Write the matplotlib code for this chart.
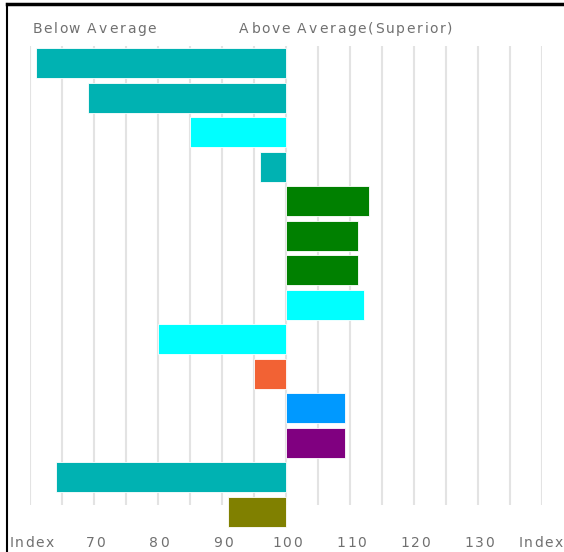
import matplotlib.pyplot as plt
from matplotlib.font_manager import FontProperties, findfont, get_font

# Data
index_values = [61, 69, 85, 96, 113, 111.2, 111.2, 112.2, 80, 95, 109.2, 109.2, 64, 91]
bar_colors = ["#00b2b2", "#00b2b2", "#00ffff", "#00b2b2", "#008000", "#008000", "#008000",
              "#00ffff", "#00ffff", "#f26234", "#0099ff", "#800080", "#00b2b2", "#808000"]
tick_values = [70, 80, 90, 100, 110, 120, 130]
base = 100

W, H = 564, 552
fig = plt.figure(figsize=(W / 100, H / 100), dpi=100)
ax = fig.add_axes([30 / W, 1 - 529 / H, 512 / W, 483 / H])

# vertical grid lines
for g in range(60, 141, 5):
    ax.vlines(g, -0.5, 12.8, color="#e3e3e3", lw=1.5, zorder=0)

ys = list(range(len(index_values)))
lefts = [min(v, base) for v in index_values]
widths = [abs(v - base) for v in index_values]
ax.barh(ys, widths, left=lefts, height=0.87, color=bar_colors,
        edgecolor="#ffffff", linewidth=0.6, zorder=2)

ax.set_xlim(60, 140)
ax.set_ylim(13.5, -0.5)
ax.axis("off")

# letter-spaced labels (the original font has wide tracking)
gray = "#707070"
fp = FontProperties(family="DejaVu Sans", size=10)
ft = get_font(findfont(fp))
ft.set_size(10, 100)


def glyph(c):
    g = ft.load_char(ord(c))
    return g.linearHoriAdvance / 65536, g.horiBearingX / 64


def spaced_text(x, y, s, spacing=1.7, ha="left"):
    total = sum(glyph(c)[0] for c in s) + spacing * (len(s) - 1)
    pen = x - total / 2 if ha == "center" else x
    for c in s:
        adv, lsb = glyph(c)
        if c != " ":
            fig.text((pen + lsb) / W, 1 - y / H, c, ha="left", va="center",
                     fontproperties=fp, color=gray)
        pen += adv + spacing


for t in tick_values:
    px = 30 + (t - 60) * 6.4
    spaced_text(px, 543, str(t), ha="center")
spaced_text(8, 543, "Index")
spaced_text(517, 543, "Index")

spaced_text(31, 29, "Below Average")
spaced_text(239, 29, "Above Average(Superior)")

# frame lines (top and left)
fig.add_artist(plt.Line2D([7 / W, 1], [1 - 4 / H, 1 - 4 / H], color="black", lw=2.5))
fig.add_artist(plt.Line2D([7 / W, 7 / W], [0, 1 - 4 / H], color="black", lw=1.5))

fig.savefig("out.png", dpi=100)
